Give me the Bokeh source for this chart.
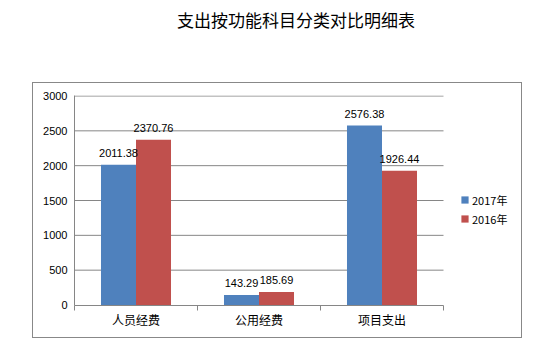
from bokeh.plotting import figure
from bokeh.layouts import column
from bokeh.models import (ColumnDataSource, Range1d, LinearAxis, Div,
                          FixedTicker, Legend, LegendItem)
from bokeh.core.properties import value
from bokeh.embed import file_html
from bokeh.resources import INLINE

title = "支出按功能科目分类对比明细表"
categories = ["人员经费", "公用经费", "项目支出"]
series_names = ["2017年", "2016年"]
values_2017 = [2011.38, 143.29, 2576.38]
values_2016 = [2370.76, 185.69, 1926.44]
y_ticks = [0, 500, 1000, 1500, 2000, 2500, 3000]

BLUE = "#4F81BD"
RED = "#C0504D"
GRAY = "#868686"
NUMFONT = "Liberation Sans"
CJK = "Noto Sans CJK SC"

# layout (pixels)
FRAME_W, FRAME_H, CAT_W = 447, 210, 369
off = 0.1423
w = 0.2846
n = len(categories)
centers = [i + 0.5 for i in range(n)]
ymax = y_ticks[-1]
pad = (ymax / 2) / (FRAME_H - 1)

src = ColumnDataSource(dict(
    x17=[c - off for c in centers],
    x16=[c + off for c in centers],
    v17=values_2017,
    v16=values_2016,
    t17=[f"{v:.2f}" for v in values_2017],
    t16=[f"{v:.2f}" for v in values_2016],
))
grid_src = ColumnDataSource(dict(y=y_ticks[1:], x0=[0] * (len(y_ticks) - 1), x1=[n] * (len(y_ticks) - 1)))

p = figure(width=490, height=256, output_backend="svg", toolbar_location=None,
           x_range=Range1d(0, n * FRAME_W / CAT_W),
           y_range=Range1d(-pad, ymax + pad),
           x_axis_location=None, y_axis_location=None,
           min_border_left=42, min_border_right=1, min_border_top=13, min_border_bottom=33,
           margin=(0, 0, 0, 32),
           styles={"outline": "1px solid #888888", "outline-offset": "-1px"})
p.outline_line_color = None
p.border_fill_alpha = 0
p.background_fill_alpha = 0
p.xgrid.grid_line_color = None
p.ygrid.grid_line_color = None

p.segment(x0="x0", x1="x1", y0="y", y1="y", source=grid_src, line_color=GRAY, line_width=1)

r17 = p.vbar(x="x17", top="v17", bottom=-pad, width=w, source=src, fill_color=BLUE, line_color=None)
r16 = p.vbar(x="x16", top="v16", bottom=-pad, width=w, source=src, fill_color=RED, line_color=None)

for xc, col, tcol in (("x17", "v17", "t17"), ("x16", "v16", "t16")):
    p.text(x=xc, y=col, text=tcol, source=src,
           text_align="center", text_baseline="bottom", y_offset=-8,
           text_font=value(NUMFONT), text_font_size="11px", text_color="#000000")

# y axis
yax = LinearAxis(ticker=FixedTicker(ticks=y_ticks))
yax.axis_line_color = GRAY
yax.major_tick_line_color = None
yax.major_tick_out = 0
yax.major_tick_in = 0
yax.minor_tick_line_color = None
yax.major_label_standoff = 7
yax.major_label_text_font = NUMFONT
yax.major_label_text_font_size = "11px"
yax.major_label_text_color = "#000000"
p.add_layout(yax, "left")

# x tick-only axis at category boundaries
bounds = list(range(n + 1))
tax = LinearAxis(ticker=FixedTicker(ticks=bounds), bounds=(0, n))
tax.axis_line_color = GRAY
tax.major_tick_line_color = GRAY
tax.major_tick_out = 5
tax.major_tick_in = 0
tax.minor_tick_line_color = None
tax.major_label_text_font_size = "0px"
tax.major_label_standoff = 0
tax.major_label_overrides = {b: "" for b in bounds}
p.add_layout(tax, "below")

# category label axis
cax = LinearAxis(ticker=FixedTicker(ticks=centers))
cax.major_label_overrides = {c: name for c, name in zip(centers, categories)}
cax.axis_line_color = None
cax.major_tick_line_color = None
cax.major_tick_out = 0
cax.major_tick_in = 0
cax.minor_tick_line_color = None
cax.major_label_standoff = 0
cax.major_label_text_font = CJK
cax.major_label_text_font_size = "12px"
cax.major_label_text_color = "#000000"
p.add_layout(cax, "below")

legend = Legend(items=[LegendItem(label=series_names[0], renderers=[r17]),
                       LegendItem(label=series_names[1], renderers=[r16])],
                location=(386, 77), orientation="vertical",
                glyph_width=9, glyph_height=9, label_height=19, label_standoff=3,
                spacing=0, padding=0, margin=0, border_line_color=None,
                background_fill_alpha=0,
                label_text_font=CJK, label_text_font_size="11px", label_text_color="#000000")
p.add_layout(legend)

title_div = Div(text=title, width=300, height=71, margin=(11, 0, 0, 177),
                styles={"font-family": CJK, "font-size": "17px", "line-height": "1",
                        "color": "#000000", "white-space": "nowrap"})

layout = column(title_div, p, spacing=0)
open("out.html", "w").write(file_html(layout, INLINE))
